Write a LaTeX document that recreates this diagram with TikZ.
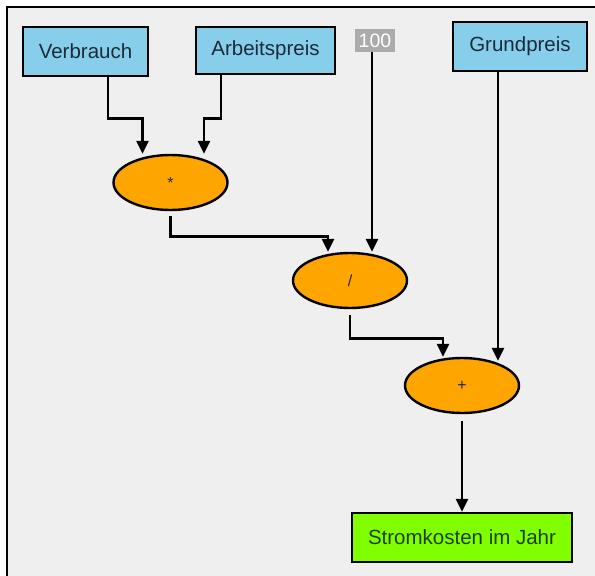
\documentclass[tikz,border=0pt]{standalone}
\usepackage{fontspec}
\setmainfont{Liberation Sans}
\usetikzlibrary{arrows.meta,shapes.geometric}
\definecolor{panelgray}{HTML}{EFEFEF}
\definecolor{inputblue}{HTML}{87CEEB}
\definecolor{oporange}{HTML}{FFA500}
\definecolor{outgreen}{HTML}{7FFF00}
\definecolor{constgray}{HTML}{ABABAB}
\definecolor{labeltext}{HTML}{1C2B39}
\definecolor{resulttext}{HTML}{1F3F12}

\begin{document}
\begin{tikzpicture}[x=1pt,y=-1pt,
                    box/.style={draw,line width=2.4pt,inner sep=0pt,text=labeltext,
                                font=\fontsize{20.5}{23}\selectfont},
                    input/.style={box,fill=inputblue},
                    op/.style={ellipse,draw,line width=2.4pt,fill=oporange,inner sep=0pt,
                               minimum width=114pt,minimum height=55pt,text=labeltext,
                               font=\fontsize{16}{18}\selectfont},
                    flow/.style={-{Triangle[width=12pt,length=13pt]},line width=2.8pt,line join=miter}]
    \useasboundingbox (0,0) rectangle (595,576);
    \fill[panelgray] (7,7) rectangle (595,576);
    \draw[line width=2.6pt] (7,576) -- (7,7) -- (595,7);

                \node[input,minimum width=125pt,minimum height=49pt] (verbrauch) at (85.5,51.5) {Verbrauch};
                \node[input,minimum width=139pt,minimum height=47pt] (arbeit) at (265.5,50.5) {Arbeitspreis};
                \node[fill=constgray,text=white,inner sep=0pt,minimum width=40pt,minimum height=23pt,
                      font=\fontsize{19.5}{21}\selectfont] (hundert) at (375,40.5) {100};
                \node[input,minimum width=134pt,minimum height=49pt] (grund) at (520,46.5) {Grundpreis};

                \node[op] (mult) at (170.5,182.5) {*};
                \node[op] (div) at (350,280.5) {/};
                \node[op] (plus) at (462,385.5) {+};

                \node[box,fill=outgreen,text=resulttext,minimum width=220pt,minimum height=49pt] (result) at (462,537.5) {Stromkosten im Jahr};

    \draw[flow] ([xshift=22.5pt]verbrauch.south) -- ++(0,41) -| ([xshift=-28pt]mult.north);
    \draw[flow] ([xshift=-44.5pt]arbeit.south) -- ++(0,43) -| ([xshift=33.5pt]mult.north);
    \draw[flow,shorten <=5pt] (mult.south) -- ++(0,25) -| ([xshift=-22pt]div.north);
    \draw[flow] ([xshift=-3pt]hundert.south) -- ([xshift=22pt]div.north);
    \draw[flow,shorten <=6pt] (div.south) -- ++(0,29) -| ([xshift=-19pt]plus.north);
    \draw[flow] ([xshift=-22pt]grund.south) -- ([xshift=36pt,yshift=-4pt]plus.north);
    \draw[flow,shorten <=7pt] (plus.south) -- (result.north);
\end{tikzpicture}
\end{document}
